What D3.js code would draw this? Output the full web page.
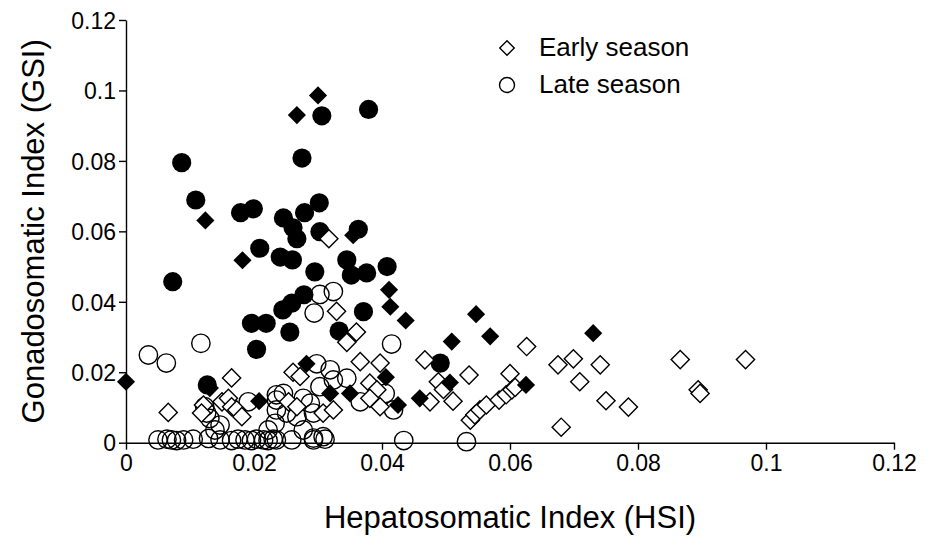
<!DOCTYPE html>
<html>
<head>
<meta charset="utf-8">
<script src="https://cdn.jsdelivr.net/npm/d3@7"></script>
<style>
  body { margin: 0; background: #fff; }
  text { font-family: "Liberation Sans", Arial, sans-serif; fill: #000; }
</style>
</head>
<body>
<div class="canvas"></div>
<script>
// axis ticks
const xTicks = [0, 0.02, 0.04, 0.06, 0.08, 0.1, 0.12];
const yTicks = [0, 0.02, 0.04, 0.06, 0.08, 0.1, 0.12];

// early season, mature (filled diamonds) [HSI, GSI]
const earlyFilled = [
  [0.0300, 0.0986], [0.0267, 0.0930], [0.0124, 0.0631], [0.0182, 0.0518],
  [0.0355, 0.0589], [0.0411, 0.0434], [0.0413, 0.0386], [0.0437, 0.0347],
  [0.0547, 0.0365], [0.0569, 0.0302], [0.0509, 0.0287], [0.0730, 0.0311],
  [0.0625, 0.0164], [0.0506, 0.0171], [0.0459, 0.0126], [0.0425, 0.0107],
  [0.0406, 0.0186], [0.0000, 0.0173], [0.0208, 0.0118], [0.0282, 0.0224],
  [0.0319, 0.0140], [0.0350, 0.0140], [0.0131, 0.0155]
];

// early season, other (open diamonds)
const earlyOpen = [
  [0.0317, 0.0579], [0.0329, 0.0373], [0.0360, 0.0314], [0.0345, 0.0285],
  [0.0066, 0.0086], [0.0165, 0.0184], [0.0121, 0.0107], [0.0118, 0.0084],
  [0.0150, 0.0116], [0.0160, 0.0126], [0.0165, 0.0102], [0.0173, 0.0093],
  [0.0181, 0.0074], [0.0261, 0.0200], [0.0272, 0.0188], [0.0366, 0.0230],
  [0.0397, 0.0226], [0.0381, 0.0169], [0.0392, 0.0150], [0.0381, 0.0126],
  [0.0397, 0.0102], [0.0254, 0.0116], [0.0267, 0.0102], [0.0308, 0.0084],
  [0.0324, 0.0093], [0.0467, 0.0235], [0.0475, 0.0116], [0.0488, 0.0173],
  [0.0496, 0.0151], [0.0511, 0.0118], [0.0536, 0.0192], [0.0600, 0.0196],
  [0.0626, 0.0273], [0.0538, 0.0064], [0.0545, 0.0079], [0.0553, 0.0093],
  [0.0563, 0.0107], [0.0583, 0.0121], [0.0594, 0.0136], [0.0603, 0.0150],
  [0.0608, 0.0157], [0.0675, 0.0221], [0.0699, 0.0238], [0.0741, 0.0221],
  [0.0709, 0.0173], [0.0750, 0.0119], [0.0785, 0.0101], [0.0680, 0.0044],
  [0.0866, 0.0236], [0.0894, 0.0150], [0.0897, 0.0140], [0.0968, 0.0236]
];

// late season, mature (filled circles)
const lateFilled = [
  [0.0087, 0.0795], [0.0109, 0.0689], [0.0179, 0.0653], [0.0199, 0.0664],
  [0.0246, 0.0638], [0.0279, 0.0653], [0.0302, 0.0681], [0.0261, 0.0610],
  [0.0267, 0.0579], [0.0303, 0.0599], [0.0363, 0.0606], [0.0209, 0.0552],
  [0.0241, 0.0527], [0.0260, 0.0519], [0.0295, 0.0485], [0.0345, 0.0519],
  [0.0352, 0.0476], [0.0376, 0.0482], [0.0408, 0.0500], [0.0073, 0.0457],
  [0.0278, 0.0420], [0.0259, 0.0396], [0.0245, 0.0377], [0.0371, 0.0372],
  [0.0196, 0.0339], [0.0219, 0.0339], [0.0256, 0.0314], [0.0333, 0.0317],
  [0.0204, 0.0265], [0.0491, 0.0226], [0.0127, 0.0164], [0.0275, 0.0808],
  [0.0306, 0.0928], [0.0379, 0.0946]
];

// late season, other (open circles)
const lateOpen = [
  [0.0035, 0.0249], [0.0063, 0.0226], [0.0117, 0.0282], [0.0303, 0.0421],
  [0.0324, 0.0429], [0.0294, 0.0368], [0.0415, 0.0280], [0.0434, 0.0006],
  [0.0532, 0.0003],
  [0.0050, 0.0008], [0.0064, 0.0010], [0.0071, 0.0008], [0.0079, 0.0006],
  [0.0090, 0.0008], [0.0105, 0.0010], [0.0129, 0.0012], [0.0147, 0.0008],
  [0.0165, 0.0006], [0.0175, 0.0010], [0.0186, 0.0008], [0.0196, 0.0006],
  [0.0204, 0.0010], [0.0215, 0.0008], [0.0222, 0.0006], [0.0230, 0.0010],
  [0.0235, 0.0008], [0.0259, 0.0008], [0.0293, 0.0008], [0.0311, 0.0010],
  [0.0139, 0.0036], [0.0147, 0.0050], [0.0126, 0.0084], [0.0123, 0.0102],
  [0.0131, 0.0069], [0.0191, 0.0116], [0.0235, 0.0136], [0.0233, 0.0055],
  [0.0298, 0.0224], [0.0319, 0.0207], [0.0345, 0.0183], [0.0324, 0.0178],
  [0.0303, 0.0159], [0.0405, 0.0140], [0.0366, 0.0116], [0.0418, 0.0093],
  [0.0246, 0.0140], [0.0235, 0.0121], [0.0277, 0.0126], [0.0288, 0.0112],
  [0.0251, 0.0084], [0.0267, 0.0074], [0.0293, 0.0084], [0.0277, 0.0036],
  [0.0308, 0.0017], [0.0293, 0.0013], [0.0235, 0.0093], [0.0222, 0.0036]
];

const legendLabels = ['Early season', 'Late season'];

const width = 927, height = 539;
const margin = {top: 20, right: 33, bottom: 96.3, left: 126};

const svg = d3.select('.canvas')
  .append('svg')
    .attr('width', width)
    .attr('height', height);

const graphWidth = width - margin.left - margin.right;
const graphHeight = height - margin.top - margin.bottom;

const graph = svg.append('g')
  .attr('transform', `translate(${margin.left}, ${margin.top})`);

const x = d3.scaleLinear().domain([0, 0.12]).range([0, graphWidth]);
const y = d3.scaleLinear().domain([0, 0.12]).range([graphHeight, 0]);

const fmt = d => d === 0 ? '0' : String(+d.toFixed(2));

// axes
const xAxisGroup = graph.append('g')
  .attr('transform', `translate(0, ${graphHeight})`)
  .call(d3.axisBottom(x).tickValues(xTicks).tickFormat(fmt).tickSize(7).tickSizeOuter(0).tickPadding(5));
const yAxisGroup = graph.append('g')
  .call(d3.axisLeft(y).tickValues(yTicks).tickFormat(fmt).tickSize(7).tickSizeOuter(0).tickPadding(3));

[xAxisGroup, yAxisGroup].forEach(g => {
  g.selectAll('path, line').attr('stroke', '#000').attr('stroke-width', 1.4);
  g.selectAll('text')
    .style('font-family', '"Liberation Sans", Arial, sans-serif')
    .attr('font-size', 23)
    .attr('fill', '#000');
});
yAxisGroup.selectAll('text').attr('dy', '0.36em');

// marker symbols
const diamond = d3.symbol(d3.symbolSquare, 165);
const diamondSmall = d3.symbol(d3.symbolSquare, 105);

// late filled circles
graph.append('g').selectAll('circle')
  .data(lateFilled)
  .enter().append('circle')
    .attr('cx', d => x(d[0]))
    .attr('cy', d => y(d[1]))
    .attr('r', 9.6)
    .attr('fill', '#000');

// late open circles
graph.append('g').selectAll('circle')
  .data(lateOpen)
  .enter().append('circle')
    .attr('cx', d => x(d[0]))
    .attr('cy', d => y(d[1]))
    .attr('r', 9.2)
    .attr('fill', 'none')
    .attr('stroke', '#000')
    .attr('stroke-width', 1.4);

// early open diamonds
graph.append('g').selectAll('path')
  .data(earlyOpen)
  .enter().append('path')
    .attr('d', diamond)
    .attr('transform', d => `translate(${x(d[0])}, ${y(d[1])}) rotate(45)`)
    .attr('fill', '#fff')
    .attr('stroke', '#000')
    .attr('stroke-width', 1.4);

// early filled diamonds
graph.append('g').selectAll('path')
  .data(earlyFilled)
  .enter().append('path')
    .attr('d', diamond)
    .attr('transform', d => `translate(${x(d[0])}, ${y(d[1])}) rotate(45)`)
    .attr('fill', '#000');

// axis titles
svg.append('text')
  .attr('text-anchor', 'middle')
  .attr('x', margin.left + graphWidth / 2)
  .attr('y', 528)
  .attr('font-size', 31)
  .text('Hepatosomatic Index (HSI)');

svg.append('text')
  .attr('text-anchor', 'middle')
  .attr('transform', `translate(44, ${margin.top + graphHeight / 2}) rotate(-90)`)
  .attr('font-size', 31)
  .text('Gonadosomatic Index (GSI)');

// legend
const legend = svg.append('g');
legend.append('path')
  .attr('d', diamondSmall)
  .attr('transform', 'translate(507, 48) rotate(45)')
  .attr('fill', '#fff')
  .attr('stroke', '#000')
  .attr('stroke-width', 1.4);
legend.append('circle')
  .attr('cx', 507)
  .attr('cy', 85)
  .attr('r', 7.5)
  .attr('fill', 'none')
  .attr('stroke', '#000')
  .attr('stroke-width', 1.4);
legend.selectAll('text.leg')
  .data(legendLabels)
  .enter().append('text')
    .attr('class', 'leg')
    .attr('x', 539)
    .attr('y', (d, i) => 56 + i * 37)
    .attr('font-size', 26)
    .text(d => d);
</script>
</body>
</html>
